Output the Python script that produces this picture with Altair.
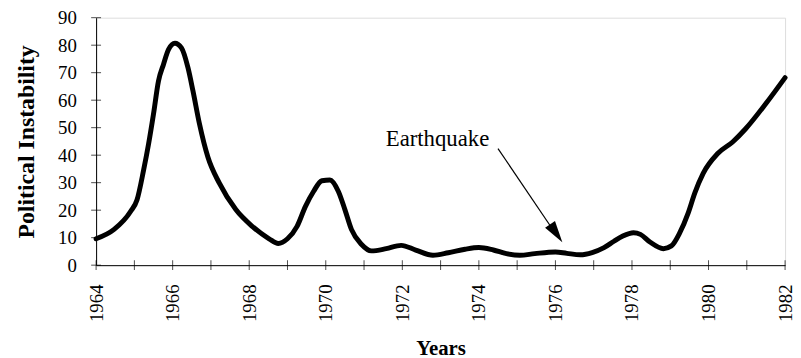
import altair as alt
import pandas as pd

years = [1964.0, 1964.47, 1964.9, 1965.07, 1965.24, 1965.37, 1965.5, 1965.63, 1965.76, 1965.89,
         1966.06, 1966.23, 1966.4, 1966.53, 1966.7, 1966.92, 1967.22, 1967.65, 1968.08, 1968.52,
         1968.76, 1969.0, 1969.25, 1969.47, 1969.68, 1969.9, 1970.11, 1970.33, 1970.5, 1970.67,
         1970.93, 1971.19, 1971.58, 1971.97, 1972.35, 1972.8, 1973.2, 1973.64, 1974.0, 1974.38,
         1974.72, 1975.07, 1975.46, 1976.0, 1976.3, 1976.65, 1976.96, 1977.27, 1977.53, 1977.75,
         1978.04, 1978.22, 1978.47, 1978.82, 1979.03, 1979.25, 1979.47, 1979.64, 1979.86, 1980.24,
         1980.63, 1980.97, 1981.49, 1982.0]
instability = [9.6, 13, 19.5, 23.8, 34.5, 44, 55, 67, 73, 78.4,
               80.7, 79, 71.8, 63.4, 51.4, 39.3, 29.8, 20.2, 14.1, 9.6,
               7.9, 9.6, 14.1, 21.4, 26.8, 30.7, 31, 26.8, 20.2, 13,
               7.6, 5.2, 6, 7.2, 5.5, 3.6, 4.5, 5.8, 6.4, 5.5,
               4.2, 3.6, 4.2, 4.8, 4.3, 3.8, 4.6, 6.4, 8.7, 10.5,
               11.8, 11.2, 8.4, 6, 7, 11.8, 19, 26.2, 33.4, 40.6,
               44.8, 49.6, 58.6, 68.2]

x_ticks = list(range(1964, 1983))
y_ticks = list(range(0, 91, 10))
x_labels = list(range(1964, 1983, 2))

annot_text = "Earthquake"
annot_pos = (1972.92, 46)
arrow_start = (1974.5, 42.4)
arrow_end = (1976.05, 10.5)
arrow_head = (1976.02, 11.56)

FONT = "Liberation Serif"

df = pd.DataFrame({"year": years, "value": instability})

xscale = alt.Scale(domain=[1964, 1982], nice=False, zero=False)
yscale = alt.Scale(domain=[0, 90], nice=False)

xaxis = alt.Axis(title="Years", values=x_labels, format="d", labelAngle=-90,
                 labelAlign="right", labelBaseline="middle", ticks=False,
                 labelPadding=19, grid=False, domainColor="black",
                 labelOverlap=False, labelFlush=False,
                 labelFont=FONT, labelFontSize=19, labelColor="black",
                 titleFont=FONT, titleFontSize=21, titleFontWeight="bold",
                 titleColor="black", titlePadding=16)
yaxis = alt.Axis(title="Political Instability", values=y_ticks, ticks=False,
                 labelPadding=20, grid=False, domainColor="black",
                 labelOverlap=False, labelFlush=False,
                 labelFont=FONT, labelFontSize=19, labelColor="black",
                 titleFont=FONT, titleFontSize=24, titleFontWeight="bold",
                 titleColor="black", titlePadding=19)


def X(field):
    return alt.X(field, scale=xscale, axis=xaxis)


def Y(field):
    return alt.Y(field, scale=yscale, axis=yaxis)


line = alt.Chart(df).mark_line(color="black", strokeWidth=5, interpolate="monotone",
                               strokeCap="round", strokeJoin="round").encode(
    x=X("year:Q"), y=Y("value:Q"))

xt = alt.Chart(pd.DataFrame({"t": x_ticks, "v": [0] * len(x_ticks)})).mark_tick(
    color="black", thickness=1, size=10, orient="vertical").encode(
    x=X("t:Q"), y=Y("v:Q"))

yt = alt.Chart(pd.DataFrame({"t": [1964] * len(y_ticks), "v": y_ticks})).mark_tick(
    color="black", thickness=1, size=10, orient="horizontal").encode(
    x=X("t:Q"), y=Y("v:Q"))

txt = alt.Chart(pd.DataFrame({"x": [annot_pos[0]], "y": [annot_pos[1]], "t": [annot_text]})).mark_text(
    font=FONT, fontSize=23, color="black", align="center", baseline="middle").encode(
    x=X("x:Q"), y=Y("y:Q"), text="t:N")

arrow_df = pd.DataFrame({"x": [arrow_start[0]], "y": [arrow_start[1]],
                         "x2": [arrow_end[0]], "y2": [arrow_end[1]]})
arrow = alt.Chart(arrow_df).mark_rule(color="black", strokeWidth=1.2).encode(
    x=X("x:Q"), y=Y("y:Q"), x2="x2:Q", y2="y2:Q")

head = alt.Chart(pd.DataFrame({"x": [arrow_head[0]], "y": [arrow_head[1]]})).mark_point(
    shape="M0,-1L0.55,1L-0.55,1Z", filled=True, color="black", size=484,
    angle=145.6, opacity=1, strokeWidth=0).encode(
    x=X("x:Q"), y=Y("y:Q"))

chart = alt.layer(line, xt, yt, arrow, head, txt).properties(
    width=696, height=250,
    autosize=alt.AutoSizeParams(type="none"),
    padding={"left": 89, "top": 8, "right": 8, "bottom": 92},
).configure_view(stroke="black", strokeWidth=1.5).configure(background="white")

chart.save("out.html", embed_options={"renderer": "svg", "actions": False})
